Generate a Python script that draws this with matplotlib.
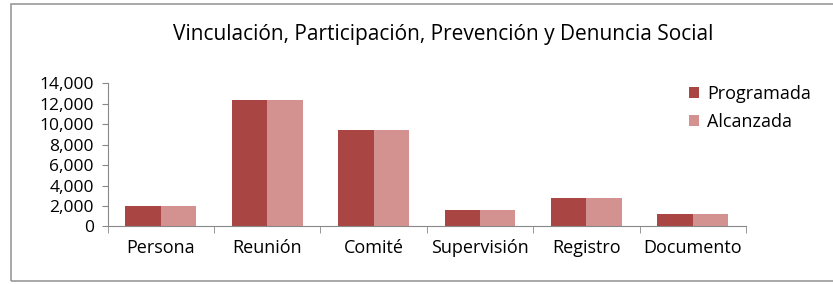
import matplotlib
matplotlib.use('Agg')
import numpy as np
import matplotlib.pyplot as plt
from matplotlib.patches import Rectangle
from matplotlib.ticker import FuncFormatter, MultipleLocator

# Data
categories = ['Persona', 'Reunión', 'Comité', 'Supervisión', 'Registro', 'Documento']
programada = [2030, 12400, 9450, 1570, 2780, 1250]
alcanzada = [2030, 12400, 9450, 1570, 2780, 1250]

dark_red = '#A94643'
light_red = '#D39290'
grid_grey = '#888888'

plt.rcParams['font.family'] = ['Open Sans', 'DejaVu Sans']

fig = plt.figure(figsize=[8.33, 2.84], dpi=100)

# Outer chart frame
fig.patches.append(Rectangle((11 / 833, 3 / 284), 830 / 833, 277 / 284,
                             transform=fig.transFigure, fill=False,
                             edgecolor='#9a9a9a', linewidth=1.2))

ax = fig.add_axes([0.1293, 0.2025, 0.7663, 0.5042])

x = np.arange(len(categories))
w = 0.333
ax.bar(x - w / 2, programada, w, color=dark_red, label='Programada')
ax.bar(x + w / 2, alcanzada, w, color=light_red, label='Alcanzada')

ax.set_xlim(-0.5, len(categories) - 0.5)
ax.set_ylim(0, 14000)
ax.yaxis.set_major_locator(MultipleLocator(2000))
ax.yaxis.set_major_formatter(FuncFormatter(lambda v, p: f'{int(v):,}'))

# Category labels in the middle, tick marks on the boundaries
ax.set_xticks(x)
ax.set_xticklabels(categories, fontsize=13)
ax.tick_params(axis='x', which='major', length=0, pad=9)
ax.set_xticks(np.arange(len(categories) + 1) - 0.5, minor=True)
ax.tick_params(axis='x', which='minor', length=5, color=grid_grey)
ax.tick_params(axis='y', labelsize=12.5, length=4, color=grid_grey, pad=6)

for side in ['top', 'right']:
    ax.spines[side].set_visible(False)
for side in ['left', 'bottom']:
    ax.spines[side].set_color(grid_grey)

fig.text(0.532, 0.88, 'Vinculación, Participación, Prevención y Denuncia Social',
         ha='center', va='center', fontsize=15)

ax.legend(loc='upper left', bbox_to_anchor=(0.885, 1.1), frameon=False,
          fontsize=13, handlelength=0.55, handleheight=0.55,
          handletextpad=0.45, labelspacing=0.55)

fig.savefig('out.png', dpi=100)
